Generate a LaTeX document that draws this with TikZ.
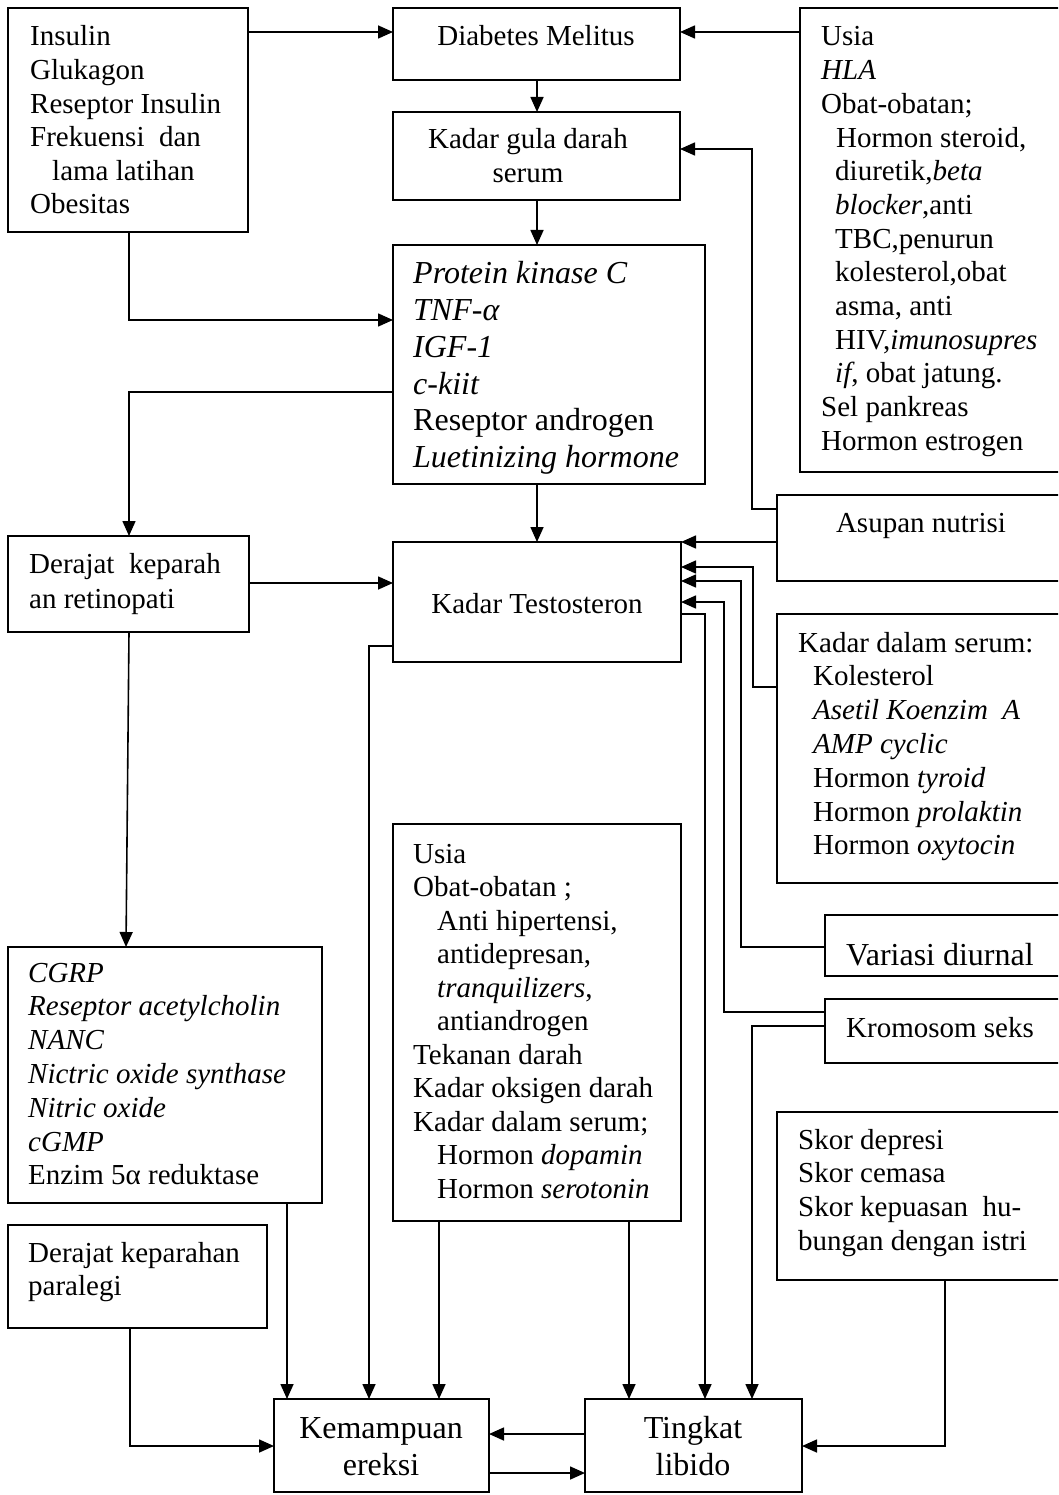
\documentclass[tikz,border=0pt]{standalone}
\usepackage{fontspec}
\setmainfont{Liberation Serif}
\usetikzlibrary{arrows.meta,calc}
\newcommand{\tb}[1]{\parbox[t]{330pt}{\raggedright #1}}
\newcommand{\tbc}[1]{\parbox[t]{300pt}{\centering #1}}
\newcommand{\mkbox}[5]{\node[bx, minimum width={#4-#2}, minimum height={#5-#3}] (#1) at (#2,#3) {};}
\tikzset{
  bx/.style={draw, line width=1.8pt, inner sep=0pt, outer sep=0pt, anchor=north west},
  tx/.style={inner sep=0pt, font=\fontsize{29}{33.6}\selectfont},
  txb/.style={inner sep=0pt, font=\fontsize{32}{36.7}\selectfont},
  arr/.style={line width=1.6pt, -{Triangle[length=15pt,width=13pt]}},
}
\begin{document}
\begin{tikzpicture}[x=1pt,y=-1pt]
\useasboundingbox (0,0) rectangle (1058,1495);
\fill[white] (0,0) rectangle (1058,1495);
\clip (0,0) rectangle (1058,1495);

% boxes
\mkbox{ins}{8}{8}{248}{232}
\mkbox{dm}{393}{8}{680}{80}
\mkbox{kgd}{393}{112}{680}{200}
\mkbox{pk}{393}{245}{705}{484}
\mkbox{usia}{800}{8}{1075}{472}
\mkbox{drt}{8}{536}{249}{632}
\mkbox{kt}{393}{542}{681}{662}
\mkbox{asup}{777}{495}{1075}{581}
\mkbox{kds}{777}{614}{1075}{883}
\mkbox{cgrp}{8}{947}{322}{1203}
\mkbox{usb}{393}{824}{681}{1221}
\mkbox{var}{825}{915}{1075}{976}
\mkbox{krom}{825}{999}{1075}{1063}
\mkbox{skor}{777}{1112}{1075}{1280}
\mkbox{par}{8}{1225}{267}{1328}
\mkbox{ke}{274}{1399}{489}{1492}
\mkbox{tl}{585}{1399}{802}{1492}

% texts
\node[tx, anchor=base west] (t-ins) at (30,46) {\tb{Insulin\\Glukagon\\Reseptor Insulin\\Frekuensi~ dan\\\hspace*{22pt}lama latihan\\Obesitas}};
\node[tx, anchor=base] (t-dm) at (536,46) {Diabetes Melitus};
\node[tx, anchor=base] (t-kgd) at (528,149) {\tbc{Kadar gula darah\\serum}};
\node[txb, anchor=base west] (t-pk) at (413,284) {\tb{\textit{Protein kinase C}\\\textit{TNF-α}\\\textit{IGF-1}\\\textit{c-kiit}\\Reseptor androgen\\\textit{Luetinizing hormone}}};
\node[tx, font=\fontsize{29}{33.7}\selectfont, anchor=base west] (t-usia) at (821,46) {\tb{Usia\\\textit{HLA}\\Obat-obatan;\\\hspace*{15pt}Hormon steroid,\\\hspace*{14pt}diuretik,\textit{beta}\\\hspace*{14pt}\textit{blocker},anti\\\hspace*{14pt}TBC,penurun\\\hspace*{14pt}kolesterol,obat\\\hspace*{14pt}asma, anti\\\hspace*{14pt}HIV,\textit{imunosupres}\\\hspace*{14pt}\textit{if}, obat jatung.\\Sel pankreas\\Hormon estrogen}};
\node[tx, font=\fontsize{29}{35}\selectfont, anchor=base west] (t-drt) at (29,573) {\tb{Derajat~ keparah\\an retinopati}};
\node[tx, anchor=base] (t-kt) at (537,613) {Kadar Testosteron};
\node[tx, anchor=base] (t-asup) at (921,532) {Asupan nutrisi};
\node[tx, font=\fontsize{29}{33.8}\selectfont, anchor=base west] (t-kds) at (798,652) {\tb{Kadar dalam serum:\\\hspace*{15pt}Kolesterol\\\hspace*{15pt}\textit{Asetil Koenzim~ A}\\\hspace*{15pt}\textit{AMP cyclic}\\\hspace*{15pt}Hormon \textit{tyroid}\\\hspace*{15pt}Hormon \textit{prolaktin}\\\hspace*{15pt}Hormon \textit{oxytocin}}};
\node[tx, font=\fontsize{29}{33.8}\selectfont, anchor=base west] (t-cgrp) at (28,982) {\tb{\textit{CGRP}\\\textit{Reseptor acetylcholin}\\\textit{NANC}\\\textit{Nictric oxide synthase}\\\textit{Nitric oxide}\\\textit{cGMP}\\Enzim 5α reduktase}};
\node[tx, font=\fontsize{29}{33.5}\selectfont, anchor=base west] (t-usb) at (413,863) {\tb{Usia\\Obat-obatan ;\\\hspace*{24pt}Anti hipertensi,\\\hspace*{24pt}antidepresan,\\\hspace*{24pt}\textit{tranquilizers},\\\hspace*{24pt}antiandrogen\\Tekanan darah\\Kadar oksigen darah\\Kadar dalam serum;\\\hspace*{24pt}Hormon \textit{dopamin}\\\hspace*{24pt}Hormon \textit{serotonin}}};
\node[txb, anchor=base west] (t-var) at (846,965) {Variasi diurnal};
\node[tx, anchor=base west] (t-krom) at (846,1037) {Kromosom seks};
\node[tx, font=\fontsize{29}{33.7}\selectfont, anchor=base west] (t-skor) at (798,1149) {\tb{Skor depresi\\Skor cemasa\\Skor kepuasan~ hu-\\bungan dengan istri}};
\node[tx, font=\fontsize{29}{33}\selectfont, anchor=base west] (t-par) at (28,1262) {\tb{Derajat keparahan\\paralegi}};
\node[txb, font=\fontsize{32}{37}\selectfont, anchor=base] (t-ke) at (381,1438) {\tbc{Kemampuan\\ereksi}};
\node[txb, font=\fontsize{32}{37}\selectfont, anchor=base] (t-tl) at (693,1438) {\tbc{Tingkat\\libido}};

% connectors
\draw[arr] (ins.east |- 0,32) -- (dm.west |- 0,32);
\draw[arr] (usia.west |- 0,32) -- (dm.east |- 0,32);
\draw[arr] (dm.south -| 537,0) -- (kgd.north -| 537,0);
\draw[arr] (kgd.south -| 537,0) -- (pk.north -| 537,0);
\draw[arr] (ins.south -| 129,0) |- (pk.west |- 0,320);
\draw[arr] (asup.west |- 0,509) -| (752,149) -- (kgd.east |- 0,149);
\draw[arr] (pk.west |- 0,392) -| (drt.north -| 129,0);
\draw[arr] (pk.south -| 537,0) -- (kt.north -| 537,0);
\draw[arr] (drt.east |- 0,583) -- (kt.west |- 0,583);
\draw[arr] (drt.south -| 129,0) -- (cgrp.north -| 126,0);
\draw[arr] (asup.west |- 0,542) -- (kt.east |- 0,542);
\draw[arr] (kds.west |- 0,687) -| (753,567) -- (kt.east |- 0,567);
\draw[arr] (var.west |- 0,947) -| (741,581) -- (kt.east |- 0,581);
\draw[arr] (krom.west |- 0,1012) -| (724,602) -- (kt.east |- 0,602);
\draw[arr] (kt.east |- 0,614) -| (tl.north -| 705,0);
\draw[arr] (kt.west |- 0,646) -| (ke.north -| 369,0);
\draw[arr] (krom.west |- 0,1026) -| (tl.north -| 752,0);
\draw[arr] (usb.south -| 439,0) -- (ke.north -| 439,0);
\draw[arr] (usb.south -| 629,0) -- (tl.north -| 629,0);
\draw[arr] (cgrp.south -| 287,0) -- (ke.north -| 287,0);
\draw[arr] (par.south -| 130,0) |- (ke.west |- 0,1446);
\draw[arr] (skor.south -| 945,0) |- (tl.east |- 0,1446);
\draw[arr] (tl.west |- 0,1434) -- (ke.east |- 0,1434);
\draw[arr] (ke.east |- 0,1473) -- (tl.west |- 0,1473);
\end{tikzpicture}
\end{document}
